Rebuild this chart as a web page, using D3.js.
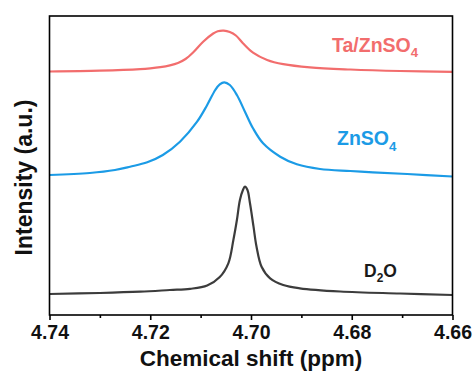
<!DOCTYPE html>
<html>
<head>
<meta charset="utf-8">
<script src="https://cdn.jsdelivr.net/npm/d3@7"></script>
<style>
  html, body { margin: 0; padding: 0; background: #fff; }
  svg { display: block; font-family: "Liberation Sans", Arial, sans-serif; }
</style>
</head>
<body>
<svg id="chart" width="476" height="372"></svg>
<script>
// ---- data (chemical shift in ppm, intensity in a.u.) ----
const taShift = [4.7400, 4.7300, 4.7220, 4.7200, 4.7180, 4.7161, 4.7145, 4.7130, 4.7115, 4.7095, 4.7075, 4.7066, 4.7054, 4.7042, 4.7030, 4.7016, 4.6996, 4.6968, 4.6936, 4.6883, 4.6803, 4.6704, 4.6600];
const taIntensity = [243.5, 244.3, 245.8, 246.6, 247.8, 249.6, 252.0, 256.0, 262.5, 273.3, 281.5, 283.8, 284.4, 283.0, 279.5, 271.8, 262.3, 255.0, 250.8, 247.6, 245.5, 244.0, 243.2];

const znShift = [4.7400, 4.7320, 4.7270, 4.7240, 4.7206, 4.7175, 4.7141, 4.7107, 4.7087, 4.7071, 4.7062, 4.7053, 4.7042, 4.7028, 4.7012, 4.6996, 4.6976, 4.6942, 4.6909, 4.6863, 4.6803, 4.6758, 4.6690, 4.6600];
const znIntensity = [140.0, 142.0, 145.0, 148.3, 152.7, 160.0, 173.3, 193.3, 210.0, 225.0, 230.7, 232.7, 230.0, 220.0, 203.3, 186.7, 171.7, 158.3, 150.7, 146.0, 144.0, 142.7, 141.0, 138.5];

const d2oShift = [4.7400, 4.7300, 4.7220, 4.7161, 4.7121, 4.7087, 4.7062, 4.7045, 4.7035, 4.7028, 4.7022, 4.7016, 4.7012, 4.7007, 4.7002, 4.6995, 4.6989, 4.6979, 4.6962, 4.6936, 4.6903, 4.6823, 4.6704, 4.6600];
const d2oIntensity = [21.0, 22.0, 23.3, 25.0, 26.2, 29.5, 38.0, 51.7, 75.0, 95.0, 115.0, 125.0, 128.3, 125.0, 111.7, 88.3, 68.3, 48.3, 36.7, 30.0, 26.7, 23.5, 21.5, 20.0];

const majorTicks = [4.74, 4.72, 4.70, 4.68, 4.66];
const minorTicks = [4.73, 4.71, 4.69, 4.67];
const xDomain = [4.74, 4.66];
const yDomain = [0, 299];

const seriesNames = ["Ta/ZnSO4", "ZnSO4", "D2O"];
const seriesColors = ["#f26d6d", "#1b9be6", "#3c3c3c"];

// ---- layout ----
const svg = d3.select("#chart");
const L = 49.5, R = 452.5, T = 16, B = 315;

const x = d3.scaleLinear().domain(xDomain).range([L, R]);
const y = d3.scaleLinear().domain(yDomain).range([B, T]);

const line = d3.line()
  .x(d => x(d[0]))
  .y(d => y(d[1]))
  .curve(d3.curveCatmullRom.alpha(0.5));

const series = [
  d3.zip(taShift, taIntensity),
  d3.zip(znShift, znIntensity),
  d3.zip(d2oShift, d2oIntensity)
];

series.forEach((pts, i) => {
  svg.append("path")
    .datum(pts)
    .attr("d", line)
    .attr("fill", "none")
    .attr("stroke", seriesColors[i])
    .attr("stroke-width", 2.2)
    .attr("stroke-linejoin", "round");
});

// frame
svg.append("rect")
  .attr("x", L).attr("y", T)
  .attr("width", R - L).attr("height", B - T)
  .attr("fill", "none")
  .attr("stroke", "#000")
  .attr("stroke-width", 1.6);

// bottom axis: major ticks with labels
const axisMajor = d3.axisBottom(x)
  .tickValues(majorTicks)
  .tickSize(5)
  .tickPadding(5)
  .tickFormat(d3.format(".2f"));
const gMaj = svg.append("g").attr("transform", `translate(0,${B})`).call(axisMajor);
gMaj.select(".domain").remove();
gMaj.selectAll(".tick line").attr("stroke", "#000").attr("stroke-width", 1.6);
gMaj.selectAll(".tick text")
  .attr("fill", "#111")
  .style("font-family", "'Liberation Sans', Arial, sans-serif")
  .style("font-size", "19.5px")
  .style("font-weight", "bold");

// minor ticks
const axisMinor = d3.axisBottom(x)
  .tickValues(minorTicks)
  .tickSize(3)
  .tickFormat("");
const gMin = svg.append("g").attr("transform", `translate(0,${B})`).call(axisMinor);
gMin.select(".domain").remove();
gMin.selectAll(".tick line").attr("stroke", "#000").attr("stroke-width", 1.6);

// axis titles
svg.append("text")
  .attr("x", (L + R) / 2).attr("y", 366)
  .attr("text-anchor", "middle")
  .attr("fill", "#111")
  .style("font-size", "22.5px").style("font-weight", "bold")
  .text("Chemical shift (ppm)");

svg.append("text")
  .attr("transform", `translate(32,${(T + B) / 2 + 12}) rotate(-90)`)
  .attr("text-anchor", "middle")
  .attr("fill", "#111")
  .style("font-size", "23px").style("font-weight", "bold")
  .text("Intensity (a.u.)");

// series labels with subscripts
function label(xp, yp, main, sub, tail, color, size) {
  const t = svg.append("text")
    .attr("x", xp).attr("y", yp)
    .attr("fill", color)
    .style("font-size", size + "px").style("font-weight", "bold");
  t.append("tspan").text(main);
  t.append("tspan").attr("dy", size * 0.3).style("font-size", (size * 0.68) + "px").text(sub);
  if (tail) t.append("tspan").attr("dy", -size * 0.3).text(tail);
}
label(332, 51.5, "Ta/ZnSO", "4", "", seriesColors[0], 19.5);
label(337, 145, "ZnSO", "4", "", seriesColors[1], 19.5);
label(364, 276.5, "D", "2", "O", "#1a1a1a", 17.5);
</script>
</body>
</html>
